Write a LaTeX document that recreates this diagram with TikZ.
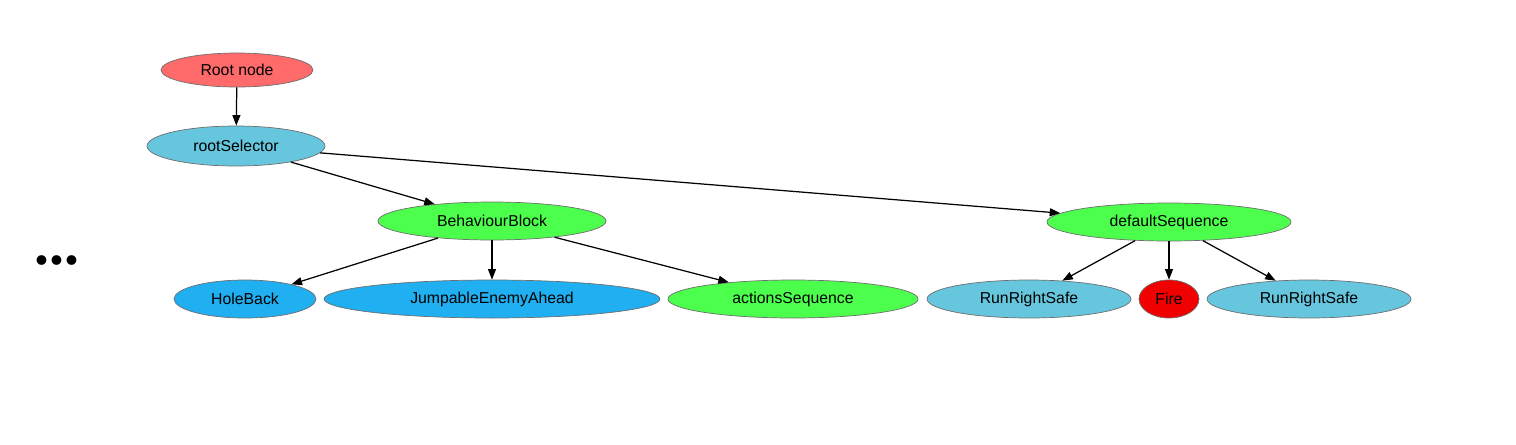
\documentclass[tikz,border=0pt]{standalone}
\usepackage{fontspec}
\setmainfont{Liberation Sans}
\newfontfamily\dotsfont{Liberation Serif}
\usetikzlibrary{shapes.geometric,arrows.meta}

\definecolor{rootRed}{RGB}{255,106,106}
\definecolor{selectorBlue}{RGB}{102,198,222}
\definecolor{sequenceGreen}{RGB}{76,255,76}
\definecolor{conditionBlue}{RGB}{32,175,240}
\definecolor{fireRed}{RGB}{240,0,0}
\definecolor{outlineGray}{RGB}{110,110,110}

\tikzset{
	treeNode/.style={ellipse, draw=outlineGray, line width=0.4pt, inner sep=0pt, minimum height=0.76cm, font=\fontsize{9}{11}\selectfont},
	treeEdge/.style={-{Triangle[length=6pt, width=4.5pt]}, line width=0.7pt, black}
}

\begin{document}
\begin{tikzpicture}[x=0.02cm, y=-0.02cm]
	\useasboundingbox (0,0) rectangle (1516,444);

	% top of the tree
	\node[treeNode, fill=rootRed, minimum width=3.04cm, minimum height=0.68cm](rootNode) at (237,70){Root node};
	\node[treeNode, fill=selectorBlue, minimum width=3.56cm, minimum height=0.8cm](rootSelector) at (236,146){rootSelector};

	% second level
	\node[treeNode, fill=sequenceGreen, minimum width=4.56cm](behaviourBlock) at (492,221){BehaviourBlock};
	\node[treeNode, fill=sequenceGreen, minimum width=4.88cm](defaultSequence) at (1169,222){defaultSequence};

	% leaves of BehaviourBlock
	\node[treeNode, fill=conditionBlue, minimum width=2.84cm](holeBack) at (245,299){HoleBack};
	\node[treeNode, fill=conditionBlue, minimum width=6.72cm](jumpableEnemy) at (492,299){JumpableEnemyAhead};
	\node[treeNode, fill=sequenceGreen, minimum width=5cm](actionsSequence) at (793,299){actionsSequence};

	% leaves of defaultSequence
	\node[treeNode, fill=selectorBlue, minimum width=4.08cm](runRight1) at (1029,299){RunRightSafe};
	\node[treeNode, fill=fireRed, minimum width=1.2cm](fire) at (1169,299){Fire};
	\node[treeNode, fill=selectorBlue, minimum width=4.08cm](runRight2) at (1309,299){RunRightSafe};

	\node[font=\dotsfont\fontsize{34}{34}\selectfont\bfseries](moreDots) at (57,260){...};

	% edges
	\draw[treeEdge] (rootNode) -- (rootSelector);
	\draw[treeEdge] (rootSelector) -- (behaviourBlock);
	\draw[treeEdge] (rootSelector) -- (defaultSequence);
	\draw[treeEdge] (behaviourBlock) -- (holeBack);
	\draw[treeEdge] (behaviourBlock) -- (jumpableEnemy);
	\draw[treeEdge] (behaviourBlock) -- (actionsSequence);
	\draw[treeEdge] (defaultSequence) -- (runRight1);
	\draw[treeEdge] (defaultSequence) -- (fire);
	\draw[treeEdge] (defaultSequence) -- (runRight2);
\end{tikzpicture}
\end{document}
